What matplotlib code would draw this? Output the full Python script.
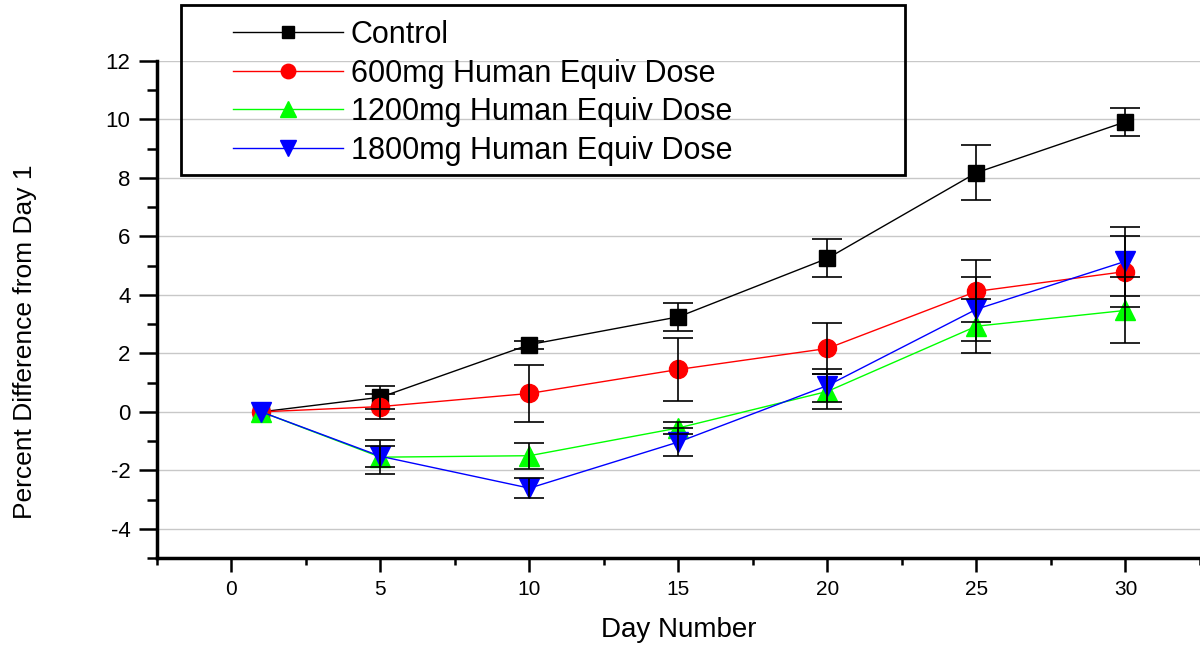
import numpy as np
import matplotlib
matplotlib.use("Agg")
import matplotlib.pyplot as plt
from matplotlib.ticker import MultipleLocator
from matplotlib.patches import Rectangle

plt.rcParams['font.family'] = ['Liberation Sans', 'DejaVu Sans']
plt.rcParams['axes.unicode_minus'] = False

# values
days = [1, 5, 10, 15, 20, 25, 30]
control = [0, 0.5, 2.3, 3.25, 5.25, 8.18, 9.92]
control_err = [0, 0.4, 0.14, 0.49, 0.65, 0.94, 0.48]
dose600 = [0, 0.18, 0.63, 1.45, 2.17, 4.12, 4.8]
dose600_err = [0, 0.43, 0.97, 1.08, 0.87, 1.06, 1.2]
dose1200 = [0, -1.55, -1.5, -0.55, 0.7, 2.93, 3.47]
dose1200_err = [0, 0.58, 0.45, 0.2, 0.6, 0.93, 1.13]
dose1800 = [0, -1.52, -2.61, -1.03, 0.9, 3.51, 5.15]
dose1800_err = [0, 0.35, 0.34, 0.47, 0.56, 1.09, 1.18]

labels = ["Control", "600mg Human Equiv Dose",
          "1200mg Human Equiv Dose", "1800mg Human Equiv Dose"]

series = [
    (control, control_err, 'black', 's', 11),
    (dose600, dose600_err, '#ff0000', 'o', 13),
    (dose1200, dose1200_err, '#00ff00', '^', 14),
    (dose1800, dose1800_err, '#0000ff', 'v', 14),
]

fig = plt.figure(figsize=(12, 6.47), dpi=100)
ax = fig.add_axes([0.1308, 0.1375, 0.8692, 0.7682])

for (vals, errs, col, mk, ms), lab in zip(series, labels):
    ax.plot(days, vals, color=col, lw=1.0, marker=mk, ms=ms,
            markeredgecolor=col, label=lab, zorder=3)
    # error bars, skipping day 1 (no spread there)
    ax.errorbar(days[1:], vals[1:], yerr=errs[1:], fmt='none', ecolor='black',
                elinewidth=1.2, capsize=11, capthick=1.2, zorder=4)

ax.set_xlim(-2.5, 32.5)
ax.set_ylim(-5, 12)
ax.xaxis.set_minor_locator(MultipleLocator(2.5))
ax.yaxis.set_minor_locator(MultipleLocator(1))
ax.set_xticks(range(0, 31, 5))
ax.set_yticks(range(-4, 13, 2))

ax.spines['top'].set_visible(False)
ax.spines['right'].set_visible(False)
ax.spines['left'].set_linewidth(2.5)
ax.spines['bottom'].set_linewidth(2.5)

ax.yaxis.grid(True, color='#c8c8c8', lw=1.0)
ax.set_axisbelow(True)

ax.tick_params(axis='y', which='major', length=13, width=1.8, labelsize=16, pad=6)
ax.tick_params(axis='y', which='minor', length=7, width=1.8)
ax.tick_params(axis='x', which='major', length=10, width=1.8, labelsize=15, pad=6)
ax.tick_params(axis='x', which='minor', length=5, width=1.8)

ax.set_xlabel("Day Number", fontsize=20)
ax.xaxis.set_label_coords(0.5, -0.145)
ax.xaxis.label.set_va('center')
ax.set_ylabel("Percent Difference from Day 1", fontsize=19)
ax.yaxis.set_label_coords(-0.1266, 0.435)
ax.yaxis.label.set_va('center')

# legend box drawn as its own frame, legend entries placed inside
fig.patches.append(Rectangle((181 / 1200, 1 - 175 / 647), 724 / 1200, 170 / 647,
                             transform=fig.transFigure, fill=False,
                             edgecolor='black', lw=2))
leg = fig.legend(loc='upper left', bbox_to_anchor=(233 / 1200, 1 - 20 / 647),
                 fontsize=22, frameon=False, handlelength=3.6, numpoints=1,
                 markerscale=0.8, labelspacing=0.28, borderpad=0,
                 handletextpad=0.25, borderaxespad=0)

fig.savefig("out.png", dpi=100)
